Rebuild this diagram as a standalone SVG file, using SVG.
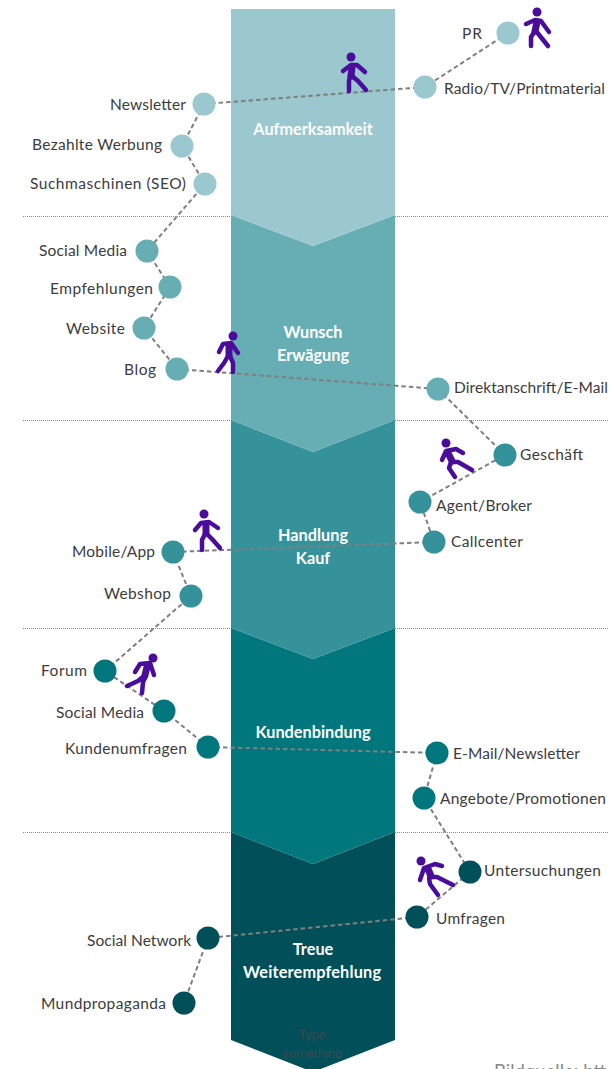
<svg xmlns="http://www.w3.org/2000/svg" width="610" height="1069" viewBox="0 0 610 1069">
<style>
text{font-family:"Lato","Liberation Sans",sans-serif}
.l{font-size:15.5px;fill:#3c3c3c}
.e{text-anchor:end}
.b{font-size:16.300px;font-weight:700;fill:#fff;text-anchor:middle}
.sep{stroke:#8a8a8a;stroke-width:1;stroke-dasharray:1 1;fill:none}
.con path{stroke:#7f7f7f;stroke-width:2;stroke-dasharray:4.5 3;fill:none}
.w{fill:none;stroke:#4a0d9b;stroke-width:4.500;stroke-linecap:round;stroke-linejoin:round}
.t{fill:none;stroke:#4a0d9b;stroke-width:7;stroke-linecap:round}
.wh{fill:#4a0d9b}
.c1{fill:#9AC8CE}.c2{fill:#66AEB4}.c3{fill:#35929A}.c4{fill:#00767D}.c5{fill:#004F59}
</style>
<defs><clipPath id="tc"><rect x="270" y="1020" width="90" height="38"/></clipPath></defs>
<rect width="610" height="1069" fill="#fff"/>
<g id="separators">
<path class="sep" d="M23 216.500H609M23 420.500H609M23 628.500H609M23 832.500H609"/>
</g>
<g id="band5"><path class="c5" d="M231 832L313 864L395 832V1040L313 1072L231 1040Z"/></g>
<g id="band4"><path class="c4" d="M231 628L313 659L395 628V832L313 864L231 832Z"/></g>
<g id="band3"><path class="c3" d="M231 420L313 452L395 420V628L313 659L231 628Z"/></g>
<g id="band2"><path class="c2" d="M231 215L313 246L395 215V420L313 452L231 420Z"/></g>
<g id="band1"><path class="c1" d="M231 9H395V215L313 246L231 215Z"/></g>
<g id="band-labels">
<text class="b" x="313" y="135">Aufmerksamkeit</text>
<text class="b" x="313" y="338">Wunsch</text>
<text class="b" x="313" y="361">Erwägung</text>
<text class="b" x="313" y="541">Handlung</text>
<text class="b" x="313" y="564">Kauf</text>
<text class="b" x="313" y="738">Kundenbindung</text>
<text class="b" x="313" y="955">Treue</text>
<text class="b" x="312" y="978" textLength="138">Weiterempfehlung</text>
<g clip-path="url(#tc)" font-size="12.500" text-anchor="middle" fill="#3f4a4f">
<text x="312" y="1039" style="font-family:Roboto,sans-serif">Type</text>
<text x="312" y="1058" style="font-family:Roboto,sans-serif">something</text>
</g>
</g>
<g id="connectors" class="con">
<path d="M508 33L425 87"/>
<path d="M425 87L204 104"/>
<path d="M204 104L182 146L205 184L147 251L170 287L144 328L177 369"/>
<path d="M177 369L438 389"/>
<path d="M438 389L505 455L420 502L434 542"/>
<path d="M434 542L173 552"/>
<path d="M173 552L191 596L105 671L164 711L208 747"/>
<path d="M208 747L437 753"/>
<path d="M437 753L424 798L470 872L417 917"/>
<path d="M417 917L208 938"/>
<path d="M208 938L184 1003"/>
</g>
<g id="n-pr"><circle class="c1" cx="508" cy="33" r="11.500"/><text class="l e" x="482" y="39" textLength="20">PR</text></g>
<g id="n-radio"><circle class="c1" cx="425" cy="87" r="11.500"/><text class="l" x="444" y="94" textLength="161">Radio/TV/Printmaterial</text></g>
<g id="n-newsletter"><circle class="c1" cx="204" cy="104" r="11.500"/><text class="l e" x="186" y="110" textLength="76">Newsletter</text></g>
<g id="n-werbung"><circle class="c1" cx="182" cy="146" r="11.500"/><text class="l e" x="162" y="150" textLength="130">Bezahlte Werbung</text></g>
<g id="n-seo"><circle class="c1" cx="205" cy="184" r="11.500"/><text class="l e" x="186" y="189" textLength="156">Suchmaschinen (SEO)</text></g>
<g id="n-social"><circle class="c2" cx="147" cy="251" r="11.500"/><text class="l e" x="127" y="256" textLength="88">Social Media</text></g>
<g id="n-empf"><circle class="c2" cx="170" cy="287" r="11.500"/><text class="l e" x="153" y="294" textLength="103">Empfehlungen</text></g>
<g id="n-website"><circle class="c2" cx="144" cy="328" r="11.500"/><text class="l e" x="125" y="334" textLength="59">Website</text></g>
<g id="n-blog"><circle class="c2" cx="177" cy="369" r="11.500"/><text class="l e" x="156" y="375" textLength="32">Blog</text></g>
<g id="n-direkt"><circle class="c2" cx="438" cy="389" r="11.500"/><text class="l" x="454" y="393" textLength="154">Direktanschrift/E-Mail</text></g>
<g id="n-geschaeft"><circle class="c3" cx="505" cy="455" r="11.500"/><text class="l" x="520" y="460" textLength="63">Geschäft</text></g>
<g id="n-agent"><circle class="c3" cx="420" cy="502" r="11.500"/><text class="l" x="436" y="511" textLength="96">Agent/Broker</text></g>
<g id="n-callcenter"><circle class="c3" cx="434" cy="542" r="11.500"/><text class="l" x="451" y="547" textLength="72">Callcenter</text></g>
<g id="n-mobile"><circle class="c3" cx="173" cy="552" r="11.500"/><text class="l e" x="155" y="557" textLength="83">Mobile/App</text></g>
<g id="n-webshop"><circle class="c3" cx="191" cy="596" r="11.500"/><text class="l e" x="171" y="599" textLength="67">Webshop</text></g>
<g id="n-forum"><circle class="c4" cx="105" cy="671" r="11.500"/><text class="l e" x="87" y="676" textLength="46">Forum</text></g>
<g id="n-social2"><circle class="c4" cx="164" cy="711" r="11.500"/><text class="l e" x="144" y="718" textLength="88">Social Media</text></g>
<g id="n-kundenumfragen"><circle class="c4" cx="208" cy="747" r="11.500"/><text class="l e" x="187" y="754" textLength="122">Kundenumfragen</text></g>
<g id="n-email"><circle class="c4" cx="437" cy="753" r="11.500"/><text class="l" x="453" y="759" textLength="127">E-Mail/Newsletter</text></g>
<g id="n-angebote"><circle class="c4" cx="424" cy="798" r="11.500"/><text class="l" x="440" y="804" textLength="166">Angebote/Promotionen</text></g>
<g id="n-untersuchungen"><circle class="c5" cx="470" cy="872" r="11.500"/><text class="l" x="484" y="876" textLength="117">Untersuchungen</text></g>
<g id="n-umfragen"><circle class="c5" cx="417" cy="917" r="11.500"/><text class="l" x="436" y="924" textLength="69">Umfragen</text></g>
<g id="n-socialnet"><circle class="c5" cx="208" cy="938" r="11.500"/><text class="l e" x="191" y="946" textLength="104">Social Network</text></g>
<g id="n-mund"><circle class="c5" cx="184" cy="1003" r="11.500"/><text class="l e" x="166" y="1009" textLength="125">Mundpropaganda</text></g>
<g id="walkers">
<g id="w1"><circle class="wh" cx="537" cy="12" r="4.500"/><path class="t" d="M537 22L535 31"/><path class="w" d="M526 24L535 20L541 21L549 32M535 31L531 37V46M536 31L540 36L548 46"/></g>
<g id="w2"><circle class="wh" cx="351" cy="57" r="4.500"/><path class="t" d="M352 67L351 76"/><path class="w" d="M343 71L351 65L357 65L365 72M350 76L349 81V91M352 76L358 81L366 90"/></g>
<g id="w3"><circle class="wh" cx="233" cy="336" r="4.500"/><path class="t" d="M229 346L229 355"/><path class="w" d="M219 352L223 344L231 343L238 353M228 356L224 363L218 371M230 356L233 363V372"/></g>
<g id="w4"><circle class="wh" cx="446" cy="443" r="4.500"/><path class="t" d="M448 453L452 461"/><path class="w" d="M442 460L446 451L456 449L463 453M451 462L449 468L455 477M453 462L458 462L472 470"/></g>
<g id="w5"><circle class="wh" cx="204" cy="514" r="4.500"/><path class="t" d="M206 524L206 533"/><path class="w" d="M195 530L201 523L209 522L218 528M205 534L202 540V550M207 534L212 539L220 548"/></g>
<g id="w6"><circle class="wh" cx="153" cy="658" r="4.500"/><path class="t" d="M147 667L145 675"/><path class="w" d="M135 672L140 664L150 663L154 675M144 676L138 681L127 686M146 676L143 682L142 693"/></g>
<g id="w7"><circle class="wh" cx="421" cy="861" r="4.500"/><path class="t" d="M428 869L431 876"/><path class="w" d="M420 880L424 868L435 864L442 866M429 878L430 884L438 895M432 877L437 877L453 885"/></g>
</g>
<text x="494" y="1078" font-size="18.500" fill="#8a8a8a">Bildquelle: htt</text>
</svg>
